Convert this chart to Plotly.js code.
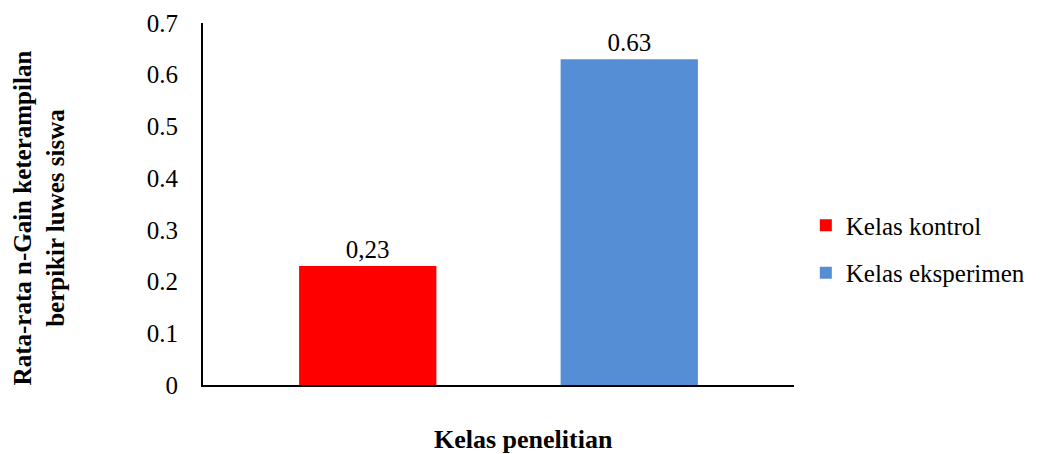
<!DOCTYPE html>
<html>
<head>
<meta charset="utf-8">
<script src="https://cdn.plot.ly/plotly-3.0.1.min.js"></script>
<style>html,body{margin:0;padding:0;background:#fff;}#chart{width:1042px;height:454px;}</style>
</head>
<body>
<div id="chart"></div>
<script>
const category = ["Kelas penelitian"];
const seriesNames = ["Kelas kontrol", "Kelas eksperimen"];
const kontrolValues = [0.23];
const eksperimenValues = [0.63];
const kontrolLabels = ["0,23"];
const eksperimenLabels = ["0.63"];
const yTickVals = [0, 0.1, 0.2, 0.3, 0.4, 0.5, 0.6, 0.7];
const yTickText = ["0", "0.1", "0.2", "0.3", "0.4", "0.5", "0.6", "0.7"];

const serif = "Liberation Serif, Times New Roman, serif";
const FS = 25;

const traces = [
  {type: "bar", name: seriesNames[0], x: category, y: kontrolValues, text: kontrolLabels,
   textposition: "outside", cliponaxis: false, legendgroup: "a",
   textfont: {family: serif, size: FS, color: "#000"},
   marker: {color: "#FF0000"}, hoverinfo: "none"},
  {type: "bar", name: seriesNames[1], x: category, y: eksperimenValues, text: eksperimenLabels,
   textposition: "outside", cliponaxis: false, legendgroup: "b",
   textfont: {family: serif, size: FS, color: "#000"},
   marker: {color: "#558ED5"}, hoverinfo: "none"}
];

const layout = {
  width: 1042, height: 454,
  margin: {l: 203, r: 243, t: 23, b: 69, pad: 0},
  paper_bgcolor: "#fff", plot_bgcolor: "#fff",
  barmode: "group", bargap: 0.115, bargroupgap: 0.475,
  font: {family: serif, size: FS, color: "#000"},
  showlegend: true,
  legend: {x: 1.02, xanchor: "left", y: 0.376, yanchor: "middle",
           font: {family: serif, size: FS, color: "#000"},
           tracegroupgap: 12, traceorder: "grouped", itemwidth: 30},
  xaxis: {type: "category", showticklabels: false, ticks: "", showgrid: false,
          showline: true, linecolor: "#000", linewidth: 2, zeroline: false},
  yaxis: {range: [0, 0.7], tickvals: yTickVals, ticktext: yTickText, ticks: "",
          showgrid: false, showline: true, linecolor: "#000", linewidth: 2,
          zeroline: false, ticklabelstandoff: 18,
          tickfont: {family: serif, size: FS, color: "#000"}},
  annotations: [
    {xref: "paper", yref: "paper", x: (526 - 203) / 596, y: (385 - 440) / 362, yanchor: "middle",
     showarrow: false, text: "<b>Kelas penelitian</b>",
     font: {family: serif, size: 26, color: "#000"}},
    {xref: "paper", yref: "paper", x: (38 - 203) / 596, y: (385 - 218) / 362,
     xanchor: "center", yanchor: "middle", textangle: -90, showarrow: false,
     text: "<b>Rata-rata n-Gain keterampilan<br>berpikir luwes siswa</b>",
     font: {family: serif, size: FS, color: "#000"}}
  ]
};

Plotly.newPlot("chart", traces, layout, {displayModeBar: false, staticPlot: true});
</script>
</body>
</html>
